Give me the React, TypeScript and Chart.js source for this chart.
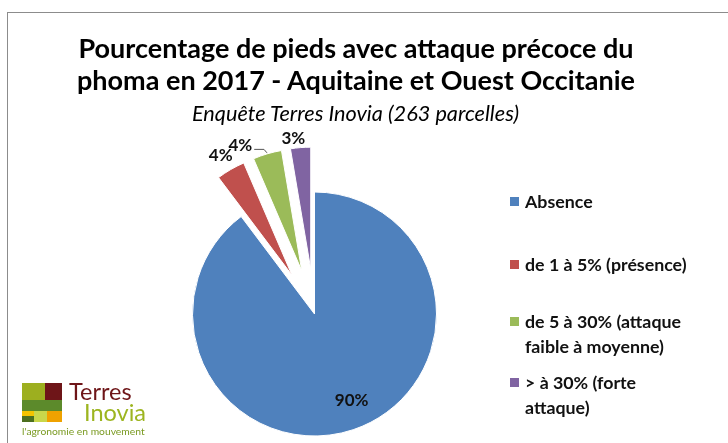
import React, { useEffect, useRef } from "react";
import { Chart, registerables } from "chart.js";

Chart.register(...registerables);

// ---- data ----
const categories = [
  "Absence",
  "de 1 à 5% (présence)",
  "de 5 à 30% (attaque faible à moyenne)",
  "> à 30% (forte attaque)",
];
const legendLines = [
  ["Absence"],
  ["de 1 à 5% (présence)"],
  ["de 5 à 30% (attaque", "faible à moyenne)"],
  ["> à 30% (forte", "attaque)"],
];
const parcelCounts = [236, 10, 10, 7];
const sliceColors = ["#4F81BD", "#C0504D", "#9BBB59", "#8064A2"];
const explodeDistance = [0, 45, 45, 45];
const labelNudge = [
  [7, -4],
  [-3, -2],
  [-23, 5],
  [-6, 5],
];
const leaderLine = [false, false, true, false];
const titleLines = [
  "Pourcentage de pieds avec attaque précoce du",
  "phoma en 2017 - Aquitaine et Ouest Occitanie",
];
const subtitleText = "Enquête Terres Inovia (263 parcelles)";

const FONT = "Lato, 'Open Sans', sans-serif";

const explodePlugin = {
  id: "explodeSlices",
  afterDatasetUpdate(chart: any, args: any) {
    const meta = args.meta;
    meta.data.forEach((arc: any, i: number) => {
      const d = explodeDistance[i] || 0;
      if (!d) return;
      const mid = (arc.startAngle + arc.endAngle) / 2;
      arc.x += Math.cos(mid) * d;
      arc.y += Math.sin(mid) * d;
    });
  },
};

const labelPlugin = {
  id: "pctLabels",
  afterDatasetsDraw(chart: any) {
    const ctx = chart.ctx;
    const meta = chart.getDatasetMeta(0);
    const total = parcelCounts.reduce((a, b) => a + b, 0);
    ctx.save();
    meta.data.forEach((arc: any, i: number) => {
      const mid = (arc.startAngle + arc.endAngle) / 2;
      const R = arc.outerRadius;
      const txt = Math.round((parcelCounts[i] / total) * 100) + "%";
      let px: number, py: number;
      if (i === 0) {
        px = arc.x + Math.cos(mid) * R * 0.78;
        py = arc.y + Math.sin(mid) * R * 0.78;
      } else {
        px = arc.x + Math.cos(mid) * (R + 14);
        py = arc.y + Math.sin(mid) * (R + 14);
      }
      px += labelNudge[i][0];
      py += labelNudge[i][1];
      ctx.font = `bold 17px ${FONT}`;
      ctx.fillStyle = "#111";
      ctx.textAlign = "center";
      ctx.textBaseline = "middle";
      ctx.fillText(txt, px, py);
      if (leaderLine[i]) {
        const w = ctx.measureText(txt).width;
        const sx = px + w / 2 + 2;
        const sy = py + 4;
        const ex = arc.x + Math.cos(mid) * (R + 1);
        const ey = arc.y + Math.sin(mid) * (R + 1);
        ctx.beginPath();
        ctx.strokeStyle = "#555";
        ctx.lineWidth = 1;
        ctx.moveTo(sx, sy);
        ctx.lineTo(ex - 3, sy);
        ctx.lineTo(ex, ey);
        ctx.stroke();
      }
    });
    ctx.restore();
  },
};

function Logo() {
  return (
    <div style={{ position: "absolute", left: 22, top: 383 }}>
      <div style={{ position: "absolute", left: 0, top: 0, width: 23, height: 17, background: "#9DAF1F" }} />
      <div style={{ position: "absolute", left: 23, top: 0, width: 17, height: 17, background: "#6E1518" }} />
      <div style={{ position: "absolute", left: 0, top: 17, width: 40, height: 11, background: "#5C8A2B" }} />
      <div style={{ position: "absolute", left: 0, top: 28, width: 12, height: 5, background: "#F4C300" }} />
      <div style={{ position: "absolute", left: 0, top: 33, width: 12, height: 6, background: "#4C6F1F" }} />
      <div style={{ position: "absolute", left: 12, top: 28, width: 13, height: 11, background: "#C9D74B" }} />
      <div style={{ position: "absolute", left: 25, top: 28, width: 15, height: 11, background: "#EFA200" }} />
      <div
        style={{
          position: "absolute",
          left: 47,
          top: -4,
          fontFamily: FONT,
          fontSize: 23.5,
          lineHeight: "24px",
          color: "#6E1518",
          whiteSpace: "nowrap",
        }}
      >
        Terres
      </div>
      <div
        style={{
          position: "absolute",
          left: 62,
          top: 17,
          fontFamily: FONT,
          fontSize: 23.5,
          lineHeight: "24px",
          color: "#9DB520",
          whiteSpace: "nowrap",
        }}
      >
        Inovia
      </div>
      <div
        style={{
          position: "absolute",
          left: 0,
          top: 43,
          fontFamily: FONT,
          fontSize: 10.3,
          lineHeight: "11px",
          color: "#7A9A22",
          whiteSpace: "nowrap",
        }}
      >
        l'agronomie en mouvement
      </div>
    </div>
  );
}

export default function App() {
  const canvasRef = useRef<HTMLCanvasElement | null>(null);

  useEffect(() => {
    document.body.style.margin = "0";
    const canvas = canvasRef.current;
    if (!canvas) return;
    const chart = new Chart(canvas, {
      type: "pie",
      data: {
        labels: categories,
        datasets: [
          {
            data: parcelCounts,
            backgroundColor: sliceColors,
            borderColor: "#ffffff",
            borderWidth: 1,
            radius: 122,
            clip: false,
          } as any,
        ],
      },
      options: {
        responsive: false,
        maintainAspectRatio: false,
        animation: false,
        events: [],
        layout: { padding: { left: 0, right: 99, top: 185, bottom: 0 } },
        plugins: {
          legend: { display: false },
          title: { display: false },
          tooltip: { enabled: false },
        },
      },
      plugins: [explodePlugin, labelPlugin],
    });
    return () => chart.destroy();
  }, []);

  const legendTops = [189, 252, 309, 370];

  return (
    <div
      style={{
        position: "fixed",
        left: 0,
        top: 0,
        width: 728,
        height: 443,
        background: "#fff",
        overflow: "hidden",
        fontFamily: FONT,
      }}
    >
      <div
        style={{
          position: "absolute",
          left: 7,
          top: 12,
          width: 900,
          height: 600,
          borderLeft: "1px solid #8c8c8c",
          borderTop: "1px solid #8c8c8c",
        }}
      />
      <canvas
        ref={canvasRef}
        width={728}
        height={443}
        style={{ position: "absolute", left: 0, top: 0, width: 728, height: 443 }}
      />
      <div
        style={{
          position: "absolute",
          left: 0,
          top: 32,
          width: 712,
          textAlign: "center",
          fontWeight: 700,
          fontSize: 27,
          lineHeight: "32px",
          color: "#000",
          whiteSpace: "nowrap",
        }}
      >
        {titleLines.map((l, i) => (
          <div key={i}>{l}</div>
        ))}
      </div>
      <div
        style={{
          position: "absolute",
          left: 0,
          top: 101,
          width: 711,
          textAlign: "center",
          fontStyle: "italic",
          fontSize: 21.7,
          lineHeight: "24px",
          color: "#000",
          whiteSpace: "nowrap",
        }}
      >
        {subtitleText}
      </div>
      {legendLines.map((lines, i) => (
        <div key={i} style={{ position: "absolute", left: 510, top: legendTops[i] }}>
          <div
            style={{
              position: "absolute",
              left: 0,
              top: 8,
              width: 9,
              height: 9,
              background: sliceColors[i],
            }}
          />
          <div
            style={{
              position: "absolute",
              left: 15,
              top: 0,
              fontWeight: 700,
              fontSize: 17.8,
              lineHeight: "25px",
              color: "#111",
              whiteSpace: "nowrap",
            }}
          >
            {lines.map((l, j) => (
              <div key={j}>{l}</div>
            ))}
          </div>
        </div>
      ))}
      <Logo />
    </div>
  );
}
